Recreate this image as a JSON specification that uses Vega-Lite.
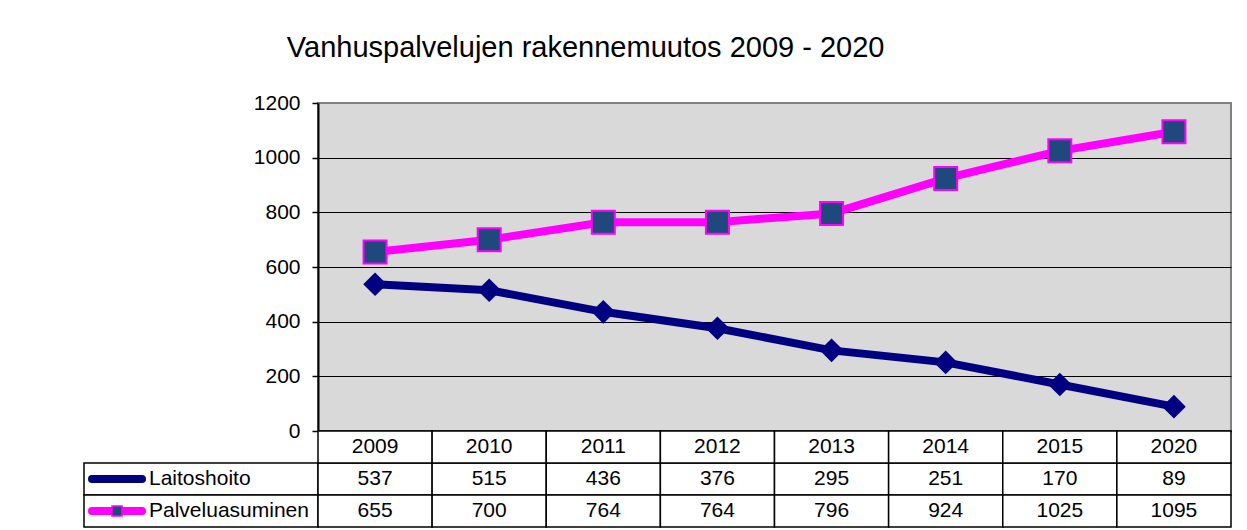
{
  "$schema": "https://vega.github.io/schema/vega-lite/v6.json",
  "padding": {"left": 83, "top": 34, "right": 17, "bottom": 4},
  "background": "white",
  "title": {
    "text": "Vanhuspalvelujen rakennemuutos 2009 - 2020",
    "fontSize": 29,
    "fontWeight": "normal",
    "color": "black",
    "anchor": "middle",
    "dx": -72,
    "offset": 28
  },
  "config": {
    "font": "Liberation Sans",
    "view": {"stroke": null},
    "axis": {"labelFontSize": 21, "labelColor": "black", "labelFont": "Liberation Sans"},
    "text": {"fontSize": 21, "color": "black"}
  },
  "datasets": {
    "main": [
      {"year": "2009", "series": "Laitoshoito", "value": 537},
      {"year": "2010", "series": "Laitoshoito", "value": 515},
      {"year": "2011", "series": "Laitoshoito", "value": 436},
      {"year": "2012", "series": "Laitoshoito", "value": 376},
      {"year": "2013", "series": "Laitoshoito", "value": 295},
      {"year": "2014", "series": "Laitoshoito", "value": 251},
      {"year": "2015", "series": "Laitoshoito", "value": 170},
      {"year": "2020", "series": "Laitoshoito", "value": 89},
      {"year": "2009", "series": "Palveluasuminen", "value": 655},
      {"year": "2010", "series": "Palveluasuminen", "value": 700},
      {"year": "2011", "series": "Palveluasuminen", "value": 764},
      {"year": "2012", "series": "Palveluasuminen", "value": 764},
      {"year": "2013", "series": "Palveluasuminen", "value": 796},
      {"year": "2014", "series": "Palveluasuminen", "value": 924},
      {"year": "2015", "series": "Palveluasuminen", "value": 1025},
      {"year": "2020", "series": "Palveluasuminen", "value": 1095}
    ]
  },
  "columns": 2,
  "spacing": 0,
  "bounds": "flush",
  "concat": [
    {
      "width": 234,
      "height": 328,
      "data": {"name": "main"},
      "transform": [{"filter": "datum.year === '2009' && datum.series === 'Laitoshoito'"}],
      "mark": {"type": "text", "opacity": 0},
      "encoding": {}
    },
    {
      "width": 913,
      "height": 328,
      "data": {"name": "main"},
      "view": {"fill": "#d9d9d9", "stroke": "#808080", "strokeWidth": 2},
      "encoding": {
        "x": {
          "field": "year",
          "type": "ordinal",
          "bandPosition": 0.5,
          "scale": {"type": "band", "paddingInner": 0, "paddingOuter": 0},
          "axis": {"labels": false, "ticks": false, "title": null, "domainColor": "black", "domainWidth": 2}
        },
        "y": {
          "field": "value",
          "type": "quantitative",
          "scale": {"domain": [0, 1200], "nice": false},
          "axis": {
            "values": [0, 200, 400, 600, 800, 1000, 1200],
            "format": "d",
            "title": null,
            "domainColor": "black",
            "domainWidth": 2,
            "tickColor": "black",
            "tickSize": 6,
            "tickWidth": 1.5,
            "labelPadding": 12,
            "gridColor": {"condition": {"test": "datum.value === 1200", "value": "#808080"}, "value": "#000000"},
            "gridWidth": 1
          }
        }
      },
      "layer": [
        {
          "mark": {"type": "line", "strokeWidth": 8},
          "encoding": {
            "color": {
              "field": "series",
              "type": "nominal",
              "scale": {"domain": ["Laitoshoito", "Palveluasuminen"], "range": ["#000080", "#ff00ff"]},
              "legend": null
            }
          }
        },
        {
          "transform": [{"filter": "datum.series === 'Laitoshoito'"}],
          "mark": {"type": "point", "shape": "diamond", "filled": true, "color": "#000080", "size": 560, "opacity": 1}
        },
        {
          "transform": [{"filter": "datum.series === 'Palveluasuminen'"}],
          "mark": {"type": "point", "shape": "square", "filled": true, "fill": "#1f497d", "stroke": "#ff00ff", "strokeWidth": 2, "size": 529, "opacity": 1}
        }
      ]
    },
    {
      "width": 234,
      "height": 96,
      "data": {"name": "main"},
      "transform": [{"filter": "datum.year === '2009'"}],
      "encoding": {
        "y": {
          "field": "series",
          "type": "nominal",
          "scale": {"domain": ["header", "Laitoshoito", "Palveluasuminen"], "paddingInner": 0, "paddingOuter": 0},
          "axis": null
        }
      },
      "layer": [
        {"mark": {"type": "rect", "fill": "white", "stroke": "black", "strokeWidth": 1.5}},
        {
          "mark": {"type": "rule", "strokeWidth": 8, "strokeCap": "round"},
          "encoding": {
            "x": {"datum": 0, "type": "quantitative", "scale": {"domain": [0, 1], "range": [8, 58]}, "axis": null},
            "x2": {"datum": 1},
            "color": {
              "field": "series",
              "type": "nominal",
              "scale": {"domain": ["Laitoshoito", "Palveluasuminen"], "range": ["#000080", "#ff00ff"]},
              "legend": null
            }
          }
        },
        {
          "transform": [{"filter": "datum.series === 'Laitoshoito'"}],
          "mark": {"type": "point", "shape": "diamond", "filled": true, "color": "#000080", "size": 40, "opacity": 1},
          "encoding": {"x": {"datum": 0.5, "type": "quantitative"}}
        },
        {
          "transform": [{"filter": "datum.series === 'Palveluasuminen'"}],
          "mark": {"type": "point", "shape": "square", "filled": true, "fill": "#1f497d", "stroke": "#ff00ff", "strokeWidth": 1.5, "size": 100, "opacity": 1},
          "encoding": {"x": {"datum": 0.5, "type": "quantitative"}}
        },
        {
          "mark": {"type": "text", "align": "left", "baseline": "middle", "dx": 7, "fontSize": 21},
          "encoding": {"x": {"datum": 1, "type": "quantitative"}, "text": {"field": "series"}}
        }
      ]
    },
    {
      "width": 913,
      "height": 96,
      "data": {"name": "main"},
      "layer": [
        {
          "mark": {"type": "rect", "fill": "white", "stroke": "black", "strokeWidth": 1.5},
          "encoding": {
            "x": {"field": "year", "type": "ordinal", "scale": {"type": "band", "paddingInner": 0, "paddingOuter": 0}, "axis": null},
            "y": {
              "field": "series",
              "type": "nominal",
              "scale": {"domain": ["header", "Laitoshoito", "Palveluasuminen"], "paddingInner": 0, "paddingOuter": 0},
              "axis": null
            }
          }
        },
        {
          "transform": [{"filter": "datum.series === 'Laitoshoito'"}],
          "mark": {"type": "rect", "fill": "white", "stroke": "black", "strokeWidth": 1.5},
          "encoding": {
            "x": {"field": "year", "type": "ordinal"},
            "y": {"datum": "header", "type": "nominal"}
          }
        },
        {
          "mark": {"type": "text", "baseline": "middle", "align": "center", "fontSize": 21},
          "encoding": {
            "x": {"field": "year", "type": "ordinal", "bandPosition": 0.5},
            "y": {"field": "series", "type": "nominal", "bandPosition": 0.5},
            "text": {"field": "value", "type": "quantitative", "format": "d"}
          }
        },
        {
          "transform": [{"filter": "datum.series === 'Laitoshoito'"}],
          "mark": {"type": "text", "baseline": "middle", "align": "center", "fontSize": 21},
          "encoding": {
            "x": {"field": "year", "type": "ordinal", "bandPosition": 0.5},
            "y": {"datum": "header", "type": "nominal", "bandPosition": 0.5},
            "text": {"field": "year", "type": "nominal"}
          }
        }
      ]
    }
  ]
}
